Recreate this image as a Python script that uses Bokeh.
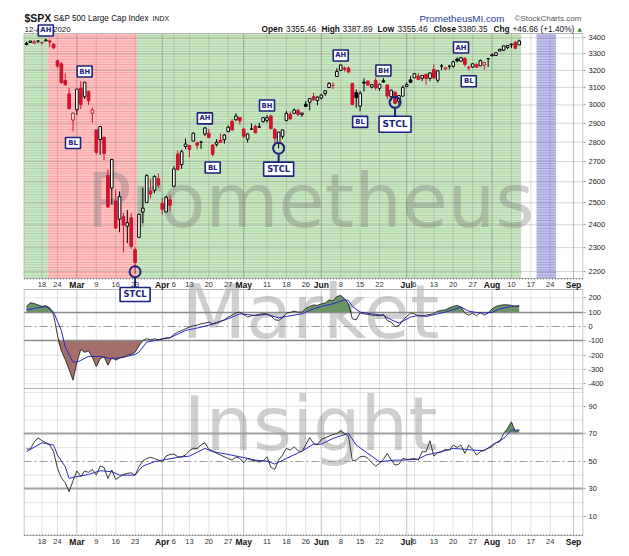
import math
import numpy as np
import pandas as pd
from bokeh.plotting import figure
from bokeh.models import Range1d, LogScale, LinearAxis, FixedTicker, ColumnDataSource
from bokeh.core.properties import value
from bokeh.embed import file_html
from bokeh.resources import INLINE

# ---------------- data ----------------
first_day = "2020-02-11"
axis_last_day = "2020-09-04"
market_holidays = ["2020-02-17", "2020-04-10", "2020-05-25", "2020-07-03"]
prev_close = 3352.09

opens = [3365.87, 3370.50, 3365.90, 3378.08,
         3369.04, 3380.39, 3380.45, 3360.50,
         3257.61, 3238.94, 3139.90, 3062.54, 2916.90,
         2974.28, 3096.46, 3045.75, 3075.70, 2954.20,
         2863.89, 2813.48, 2825.60, 2630.86, 2569.99,
         2508.59, 2425.66, 2436.50, 2393.48, 2431.94,
         2290.71, 2344.44, 2457.77, 2501.29, 2555.87,
         2558.98, 2614.69, 2498.08, 2458.54, 2514.92,
         2578.28, 2738.65, 2685.00, 2776.99,
         2782.46, 2805.10, 2795.64, 2799.34, 2842.43,
         2845.62, 2784.81, 2787.89, 2810.42, 2812.64,
         2854.65, 2909.96, 2918.46, 2930.91, 2869.09,
         2815.01, 2868.88, 2883.14, 2878.26, 2908.83,
         2915.46, 2939.50, 2865.86, 2794.54, 2829.95,
         2913.86, 2948.59, 2953.63, 2969.95, 2948.05,
         3004.08, 3015.65, 3046.61, 3025.17,
         3038.78, 3064.78, 3098.90, 3111.56, 3163.84,
         3199.92, 3213.32, 3213.42, 3123.53, 3071.04,
         2993.76, 3131.00, 3136.13, 3101.64, 3140.29,
         3094.42, 3138.70, 3114.40, 3046.60, 3073.20,
         3018.59, 3050.20, 3105.92, 3143.64,
         3155.29, 3166.44, 3153.07, 3176.17, 3152.47,
         3205.08, 3141.11, 3225.98, 3208.36, 3224.21,
         3224.29, 3268.52, 3254.86, 3271.64, 3218.58,
         3219.84, 3234.27, 3227.22, 3231.76, 3270.45,
         3288.26, 3289.92, 3317.37, 3323.17, 3340.05,
         3356.04, 3370.34, 3355.46]
highs = [3375.63, 3381.47, 3385.09, 3380.69,
         3375.01, 3393.52, 3389.15, 3360.76,
         3259.81, 3246.99, 3182.51, 3097.07, 2959.72,
         3090.96, 3136.72, 3130.97, 3083.04, 2985.93,
         2863.89, 2882.59, 2825.60, 2660.95, 2711.33,
         2562.98, 2553.93, 2453.57, 2466.97, 2453.01,
         2300.73, 2449.71, 2571.42, 2637.01, 2615.91,
         2631.80, 2641.39, 2522.75, 2533.22, 2538.18,
         2676.85, 2756.89, 2760.75, 2818.57,
         2782.46, 2851.85, 2801.88, 2806.51, 2879.22,
         2868.98, 2785.54, 2815.10, 2844.90, 2842.71,
         2887.72, 2921.15, 2954.86, 2930.91, 2869.09,
         2844.24, 2898.23, 2891.11, 2901.92, 2932.16,
         2944.25, 2945.82, 2874.14, 2852.80, 2865.01,
         2968.09, 2964.21, 2980.29, 2978.50, 2956.76,
         3021.72, 3036.25, 3068.67, 3049.17,
         3062.18, 3081.07, 3130.94, 3128.91, 3211.72,
         3233.13, 3222.71, 3223.27, 3123.53, 3088.42,
         3079.76, 3153.45, 3141.16, 3120.00, 3155.53,
         3120.92, 3154.90, 3115.01, 3086.25, 3073.73,
         3053.89, 3111.51, 3128.44, 3165.81,
         3182.59, 3184.15, 3171.80, 3179.78, 3186.82,
         3235.32, 3200.95, 3238.28, 3220.39, 3233.52,
         3258.61, 3277.29, 3279.32, 3279.99, 3227.26,
         3241.43, 3243.72, 3264.74, 3250.92, 3272.17,
         3302.73, 3306.84, 3330.77, 3351.03, 3352.54,
         3363.29, 3381.01, 3387.89]
lows = [3352.72, 3369.72, 3360.52, 3366.15,
        3355.61, 3378.83, 3341.02, 3328.45,
        3214.65, 3118.77, 3108.99, 2977.39, 2855.84,
        2945.19, 2976.63, 3034.38, 2999.83, 2901.54,
        2734.43, 2734.00, 2707.22, 2478.86, 2492.37,
        2380.94, 2367.04, 2280.52, 2319.78, 2295.56,
        2191.86, 2344.44, 2407.53, 2500.72, 2520.02,
        2545.28, 2571.15, 2447.49, 2455.79, 2459.96,
        2574.57, 2657.67, 2663.30, 2762.36,
        2721.17, 2805.10, 2761.54, 2764.32, 2830.88,
        2820.43, 2727.10, 2775.95, 2794.26, 2791.76,
        2852.89, 2860.71, 2912.16, 2892.47, 2821.61,
        2797.85, 2863.55, 2847.65, 2876.48, 2902.88,
        2903.44, 2869.59, 2793.15, 2766.64, 2816.78,
        2913.86, 2922.35, 2953.63, 2938.57, 2933.59,
        2988.17, 2969.75, 3023.40, 2998.61,
        3031.54, 3051.64, 3098.90, 3090.41, 3163.84,
        3196.00, 3193.11, 3181.49, 2999.49, 2984.47,
        2965.66, 3076.06, 3108.03, 3093.51, 3083.11,
        3079.39, 3127.12, 3032.13, 3024.01, 3004.63,
        2999.74, 3047.83, 3101.17, 3124.52,
        3155.29, 3142.93, 3136.53, 3115.70, 3136.22,
        3149.43, 3127.66, 3200.76, 3198.59, 3205.65,
        3215.16, 3247.77, 3253.10, 3222.66, 3200.05,
        3214.25, 3216.17, 3227.22, 3204.13, 3220.26,
        3284.53, 3286.37, 3317.37, 3318.14, 3328.72,
        3335.44, 3326.44, 3355.46]
closes = [3357.75, 3379.45, 3373.94, 3380.16,
          3370.29, 3386.15, 3373.23, 3337.75,
          3225.89, 3128.21, 3116.39, 2978.76, 2954.22,
          3090.23, 3003.37, 3130.12, 3023.94, 2972.37,
          2746.56, 2882.23, 2741.38, 2480.64, 2711.02,
          2386.13, 2529.19, 2398.10, 2409.39, 2304.92,
          2237.40, 2447.33, 2475.56, 2630.07, 2541.47,
          2626.65, 2584.59, 2470.50, 2526.90, 2488.65,
          2663.68, 2659.41, 2749.98, 2789.82,
          2761.63, 2846.06, 2783.36, 2799.55, 2874.56,
          2823.16, 2736.56, 2799.31, 2797.80, 2836.74,
          2878.48, 2863.39, 2939.51, 2912.43, 2830.71,
          2842.74, 2868.44, 2848.42, 2881.19, 2929.80,
          2930.32, 2870.12, 2820.00, 2852.50, 2863.70,
          2953.91, 2922.94, 2971.61, 2948.51, 2955.45,
          2991.77, 3036.13, 3029.73, 3044.31,
          3055.73, 3080.82, 3122.87, 3112.35, 3193.93,
          3232.39, 3207.18, 3190.14, 3002.10, 3041.31,
          3066.59, 3124.74, 3113.49, 3115.34, 3097.74,
          3117.86, 3131.29, 3050.33, 3083.76, 3009.05,
          3053.24, 3100.29, 3115.86, 3130.01,
          3179.72, 3145.32, 3169.94, 3152.05, 3185.04,
          3155.22, 3197.52, 3226.56, 3215.57, 3224.73,
          3251.84, 3257.30, 3276.02, 3235.66, 3215.63,
          3239.41, 3218.44, 3258.44, 3246.22, 3271.12,
          3294.61, 3306.51, 3327.77, 3349.16, 3351.28,
          3360.47, 3333.69, 3380.35]

# CCI (black) per trading day
cci = [140, 165, 160, 150, 140, 145, 130, 80, -60, -170,
       -230, -300, -375, -250, -160, -180, -170, -215, -280, -225,
       -210, -270, -215, -235, -220, -215, -200, -195, -180, -135,
       -98, -86, -93, -86, -93, -86, -79, -79, -56, -40,
       -28, -16, -5, 5, 9, 19, 23, 30, 19, 28,
       37, 47, 65, 79, 95, 100, 84, 65, 74, 79,
       84, 88, 88, 74, 47, 42, 60, 93, 98, 107,
       100, 100, 125, 140, 150, 147, 158, 163, 186, 177,
       209, 216, 193, 158, 53, 47, 95, 88, 84, 79,
       77, 74, 84, 42, 30, 0, 5, 42, 70, 93,
       88, 74, 74, 79, 84, 88, 107, 112, 116, 130,
       140, 147, 135, 93, 79, 93, 74, 98, 79, 93,
       123, 140, 147, 151, 151, 147, 140, 144]
# CCI signal line (blue), sampled at trading-day numbers
cci_ma_day = [0, 5, 7, 9, 10, 12, 13, 14, 16, 19,
              22, 25, 28, 29, 31, 34, 37, 41, 45, 49,
              53, 55, 59, 62, 65, 67, 71, 74, 76, 79,
              82, 83, 84, 86, 89, 92, 94, 96, 99, 101,
              103, 106, 108, 112, 114, 117, 120, 122, 125, 127]
cci_ma = [116, 140, 100, -28, -144, -249, -249, -237, -209, -209,
          -226, -214, -195, -179, -109, -93, -79, -28, -5, 23,
          65, 88, 77, 84, 60, 70, 88, 123, 140, 158,
          186, 181, 140, 100, 88, 77, 47, 23, 65, 77,
          70, 88, 100, 135, 107, 93, 98, 123, 140, 144]

# RSI (black) per trading day
rsi = [59, 59, 64, 67, 65, 63.5, 62, 57, 45, 38,
       34.5, 28, 36, 43, 39, 43, 42, 44, 40, 46.6,
       45.6, 37.6, 43.7, 36.9, 38.8, 40.5, 41.3, 41.7, 40, 46,
       50.4, 52.1, 52.9, 52.1, 50.9, 49.7, 53.8, 55, 55.3, 53.3,
       53.3, 54.6, 57.7, 59.4, 59.4, 61.8, 63.5, 58.7, 57.7, 55.8,
       54.6, 53.3, 52.1, 50.9, 53.3, 52.1, 49, 52.1, 50.9, 50.4,
       49.5, 50.4, 53.3, 45.6, 44.2, 50.9, 54.6, 59.4, 58.2, 60.6,
       57.7, 57, 62, 67.2, 63, 62, 65.9, 67.1, 68.3, 69.5,
       70, 72.5, 70, 68.3, 50.4, 50.9, 53.3, 53.8, 52.1, 49,
       46.6, 48.5, 51.4, 55.8, 50.9, 47.3, 48, 52.1, 51.4, 51.6,
       52.1, 50.9, 57, 57, 64.9, 53.8, 56.2, 57, 58.7, 58.2,
       61.8, 60.1, 61.8, 55.8, 61.8, 58.7, 54.6, 57, 58.2, 59.4,
       60.6, 63.5, 64.2, 70.3, 73.9, 78.7, 71.5, 72.7]
rsi_ma_day = [0, 4, 7, 8, 10, 11, 12, 16, 19, 22,
              24, 28, 30, 33, 35, 39, 42, 46, 48, 52,
              55, 59, 62, 64, 67, 71, 74, 76, 79, 83,
              85, 88, 91, 95, 97, 101, 103, 107, 110, 113,
              115, 118, 120, 123, 125, 127]
rsi_ma = [57, 63.5, 61.8, 54.6, 46.1, 37.6, 38.4, 40.5, 43.2, 42.5,
          40, 40, 46.6, 49.7, 50.9, 52.9, 53.8, 59.4, 57, 55,
          53.3, 50.9, 50.2, 48, 52.1, 57.4, 62.5, 62.5, 66.6, 70.3,
          61.8, 55.8, 49.7, 50.9, 50.9, 51.6, 54.6, 57, 59.4, 58.7,
          58.2, 57.7, 61.8, 66.6, 72.7, 72.7]

# date axis
tick_days = ["2020-02-18", "2020-02-24", "2020-03-02", "2020-03-09", "2020-03-16", "2020-03-23",
             "2020-04-01", "2020-04-06", "2020-04-13", "2020-04-20", "2020-04-27", "2020-05-01",
             "2020-05-11", "2020-05-18", "2020-05-26", "2020-06-01", "2020-06-08", "2020-06-15",
             "2020-06-22", "2020-07-01", "2020-07-06", "2020-07-13", "2020-07-20", "2020-07-27",
             "2020-08-03", "2020-08-10", "2020-08-17", "2020-08-24", "2020-09-01"]
tick_labels = ["18", "24", "Mar", "9", "16", "23", "Apr", "6", "13", "20", "27", "May",
               "11", "18", "26", "Jun", "8", "15", "22", "Jul", "6", "13", "20", "27",
               "Aug", "10", "17", "24", "Sep"]

# right-axis tick values
price_ticks = [2200, 2300, 2400, 2500, 2600, 2700, 2800, 2900, 3000, 3100, 3200, 3300, 3400]
cci_ticks = [200, 100, 0, -100, -200, -300, -400]
rsi_ticks = [90, 70, 50, 30, 10]

# background regimes
band_kind = ["green", "red", "green", "purple"]
band_first = ["2020-02-11", "2020-02-20", "2020-03-24", "2020-08-19"]
band_last = ["2020-02-19", "2020-03-23", "2020-08-12", "2020-08-25"]

# annotation boxes
ann_text = ["AH", "BL", "BH", "AH", "BL", "BH", "AH", "BL", "BH", "AH", "BL"]
ann_day = ["2020-02-19", "2020-02-28", "2020-03-04", "2020-04-17", "2020-04-21", "2020-05-11",
           "2020-06-08", "2020-06-15", "2020-06-23", "2020-07-22", "2020-07-24"]
ann_price = [3447, 2795, 3193, 2926, 2670, 2997, 3290, 2907, 3199, 3339, 3136]
stcl_text = ["STCL", "STCL", "STCL"]
stcl_day = ["2020-03-23", "2020-05-14", "2020-06-26"]
stcl_circle_price = [2199, 2768, 3015]
stcl_box_price = [2108, 2662, 2894]

watermark = ["Prometheus", "Market", "Insight"]

header_symbol = "$SPX"
header_name = "S&P 500 Large Cap Index"
header_exchange = "INDX"
header_brand = "PrometheusMI.com"
header_credit = "\u00a9StockCharts.com"
header_date = "12-Aug-2020"

# ---------------- layout (page pixels) ----------------
FIG_W, FIG_H = 620, 552
PAGE_OFF = 0
FRAME_L, FRAME_R = 23, 583
FRAME_T, FRAME_B = 8, 552
DAY_PX = 3.88
DAY0_PX = 24 + 0.5 * DAY_PX
PRICE_T, PRICE_B = 33, 278
CCI_T, CCI_B = 289, 388
RSI_T, RSI_B = 388, 535
ROW_MID, ROW_BOT = 284, 541

RED = "#d0142c"
NAVY = "#1a237e"
TXT = "Liberation Sans"
BOXF = "DejaVu Sans"


def px_to_day(x):
    return (x - DAY0_PX) / DAY_PX


X_START, X_END = px_to_day(FRAME_L), px_to_day(FRAME_R)

P_HI, P_HI_Y, P_LO, P_LO_Y = 3400.0, 37.3, 2200.0, 271.0
LN_PX = (math.log(P_HI) - math.log(P_LO)) / (P_LO_Y - P_HI_Y)


def price_y(v):
    return P_HI_Y + (math.log(P_HI) - math.log(v)) / LN_PX


def y_price(y):
    return math.exp(math.log(P_HI) - (y - P_HI_Y) * LN_PX)


CCI_PX = (383.3 - 297.3) / 600.0


def cci_y(v):
    return 297.3 + (200 - v) * CCI_PX


def y_cci(y):
    return 200 - (y - 297.3) / CCI_PX


RSI_PX = (516.0 - 405.7) / 80.0


def rsi_y(v):
    return 405.7 + (90 - v) * RSI_PX


def y_rsi(y):
    return 90 - (y - 405.7) / RSI_PX


days = pd.bdate_range(first_day, axis_last_day, freq="C", holidays=market_holidays)
day_pos = {d.strftime("%Y-%m-%d"): i for i, d in enumerate(days)}

n = len(closes)
xs = np.arange(n)

p = figure(width=FIG_W, height=FIG_H, output_backend="svg", toolbar_location=None,
           x_range=Range1d(X_START, X_END), y_range=Range1d(FRAME_B, FRAME_T),
           x_axis_type=None, y_axis_type=None, title=None,
           min_border_left=FRAME_L - PAGE_OFF, min_border_right=PAGE_OFF + FIG_W - FRAME_R,
           min_border_top=FRAME_T - PAGE_OFF, min_border_bottom=PAGE_OFF + FIG_H - FRAME_B)
p.outline_line_color = None
p.background_fill_color = "white"
p.border_fill_color = "white"
p.extra_y_ranges = {
    "price": Range1d(y_price(FRAME_B), y_price(FRAME_T)),
    "cci": Range1d(y_cci(FRAME_B), y_cci(FRAME_T)),
    "rsi": Range1d(y_rsi(FRAME_B), y_rsi(FRAME_T)),
}
p.extra_y_scales = {"price": LogScale()}

# right axis (all three panels)
ax_ticks, ax_over = [], {}
for v in price_ticks:
    t = round(price_y(v), 2); ax_ticks.append(t); ax_over[t] = str(v)
for v in cci_ticks:
    t = round(cci_y(v), 2); ax_ticks.append(t); ax_over[t] = str(v)
for v in rsi_ticks:
    t = round(rsi_y(v), 2); ax_ticks.append(t); ax_over[t] = str(v)
axis = LinearAxis(ticker=FixedTicker(ticks=ax_ticks), major_label_overrides=ax_over,
                  axis_line_color=None, major_tick_line_color="#999999", major_tick_out=2,
                  major_tick_in=0, minor_tick_line_color=None,
                  major_label_text_font=TXT, major_label_text_font_size="7.5px",
                  major_label_text_color="#222222", major_label_standoff=3)
p.add_layout(axis, "right")

# background regimes
band_style = {
    "green": ("#cce7c6", "#a8d39f"),
    "red": ("#ffc4c4", "#ff9c9c"),
    "purple": ("#c2c2ec", "#9c9cd8"),
}
for i, kind in enumerate(band_kind):
    left = X_START if i == 0 else day_pos[band_first[i]] - 0.5
    right = day_pos[band_last[i]] + 0.5
    fc, hc = band_style[kind]
    p.quad(left=[left], right=[right], top=[PRICE_T], bottom=[PRICE_B], fill_color=fc,
           line_color=None, hatch_pattern="horizontal_line", hatch_color=hc,
           hatch_scale=2.6, hatch_weight=1)

# vertical grid
tick_x = [day_pos[d] for d in tick_days]
is_month = [lab.isalpha() for lab in tick_labels]
wk_x = [x for x, m in zip(tick_x, is_month) if not m]
mo_x = [x for x, m in zip(tick_x, is_month) if m]
for top, bot, alpha_w, alpha_m in [(PRICE_T, PRICE_B, 0.22, 0.4), (CCI_T, CCI_B, 0.18, 0.35),
                                   (RSI_T, RSI_B, 0.18, 0.35)]:
    p.segment(x0=wk_x, x1=wk_x, y0=top, y1=bot, line_color="#666666", line_alpha=alpha_w, line_width=1)
    p.segment(x0=mo_x, x1=mo_x, y0=top, y1=bot, line_color="#555555", line_alpha=alpha_m, line_width=1)

# horizontal grids
p.segment(x0=X_START, x1=X_END, y0=price_ticks, y1=price_ticks, y_range_name="price",
          line_color="#777777", line_alpha=0.3)
cci_grid = [200, -200, -300, -400]
p.segment(x0=X_START, x1=X_END, y0=cci_grid, y1=cci_grid, y_range_name="cci",
          line_color="#777777", line_alpha=0.2)
rsi_grid = [10, 20, 40, 60, 80, 90, 100]
p.segment(x0=X_START, x1=X_END, y0=rsi_grid, y1=rsi_grid, y_range_name="rsi",
          line_color="#777777", line_alpha=0.2)

# watermark
p.text(x=[px_to_day(310)] * 3, y=[200, 311.5, 423], text=watermark, text_align="center",
       text_baseline="alphabetic", text_font=value(BOXF), text_font_size="75px",
       text_color="#7a7a7a", text_alpha=0.36)

# CCI panel
cci_a = np.array(cci, dtype=float)
p.varea(x=xs, y1=100, y2=np.maximum(cci_a, 100), fill_color="#6a9464", y_range_name="cci")
p.varea(x=xs, y1=np.minimum(cci_a, -100), y2=-100, fill_color="#a56f69", y_range_name="cci")
p.hspan(y=[100, -100], y_range_name="cci", line_color="#8a8a8a", line_width=1.3)
p.hspan(y=[0], y_range_name="cci", line_color="#9a9a9a", line_width=1, line_dash="8 3 2 3")
p.line(cci_ma_day, cci_ma, y_range_name="cci", line_color="#2a2acc", line_width=1)
p.line(xs, cci_a, y_range_name="cci", line_color="#262626", line_width=0.9)

# RSI panel
rsi_a = np.array(rsi, dtype=float)
p.varea(x=xs, y1=70, y2=np.maximum(rsi_a, 70), fill_color="#6a9464", y_range_name="rsi")
p.hspan(y=[70, 30], y_range_name="rsi", line_color="#a0a0a0", line_width=2)
p.hspan(y=[50], y_range_name="rsi", line_color="#9a9a9a", line_width=1, line_dash="8 3 2 3")
p.line(rsi_ma_day, rsi_ma, y_range_name="rsi", line_color="#2a2acc", line_width=1)
p.line(xs, rsi_a, y_range_name="rsi", line_color="#262626", line_width=0.9)

# candles
o = np.array(opens); h = np.array(highs); l = np.array(lows); c = np.array(closes)
prev = np.concatenate([[prev_close], c[:-1]])
col = np.where(c >= prev, "#000000", RED)
fill = np.where(c > o, "#ffffff", col)
src = ColumnDataSource(dict(x=xs, o=o, h=h, l=l, c=c, top=np.maximum(o, c),
                            bot=np.minimum(o, c), col=col, fill=fill))
p.segment(x0="x", x1="x", y0="h", y1="l", line_color="col", line_width=1, source=src,
          y_range_name="price")
p.vbar(x="x", width=0.68, top="top", bottom="bot", fill_color="fill", line_color="col",
       line_width=1, source=src, y_range_name="price")

# panel borders
bx0, bx1 = X_START + 0.5 / DAY_PX, X_END - 0.5 / DAY_PX
p.quad(left=[bx0] * 3, right=[bx1] * 3, top=[PRICE_T, CCI_T, RSI_T], bottom=[PRICE_B, CCI_B, RSI_B],
       fill_color=None, line_color="#b5b5b5", line_width=1)
p.segment(x0=bx0, x1=bx1, y0=[PRICE_B + 0.5, RSI_B - 0.5], y1=[PRICE_B + 0.5, RSI_B - 0.5],
          line_color="#777777", line_dash="1 2")

# date labels
num_x = [x for x, m in zip(tick_x, is_month) if not m]
num_t = [t for t, m in zip(tick_labels, is_month) if not m]
mon_x = [x for x, m in zip(tick_x, is_month) if m]
mon_t = [t for t, m in zip(tick_labels, is_month) if m]
for row in (ROW_MID, ROW_BOT):
    p.text(x=num_x, y=[row] * len(num_x), text=num_t, text_align="center", text_baseline="middle",
           text_font=value(TXT), text_font_size="7.5px", text_color="#333333")
    p.text(x=mon_x, y=[row] * len(mon_x), text=mon_t, text_align="center", text_baseline="middle",
           text_font=value(TXT), text_font_size="8.5px", text_font_style="bold", text_color="#111111")

# header
def htext(x, y, s, size, bold=False, color="#111111", font=TXT):
    p.text(x=[px_to_day(x)], y=[y], text=[s], text_align="left", text_baseline="middle",
           text_font=value(font), text_font_size=size,
           text_font_style="bold" if bold else "normal", text_color=color)


htext(24, 17, header_symbol, "10.5px", bold=True)
htext(53, 17.5, header_name, "8.2px")
htext(152, 17.5, header_exchange, "7px")
htext(419, 17.5, header_brand, "9.8px", color="#1f3c96")
htext(514, 17.5, header_credit, "8px", color="#555555")
htext(24, 28.5, header_date, "8px")
chg = closes[-1] - closes[-2]
pct = chg / closes[-2] * 100
row2 = [(261, "Open", True), (285.6, f"{opens[-1]:.2f}", False),
        (321, "High", True), (342, f"{highs[-1]:.2f}", False),
        (377, "Low", True), (397, f"{lows[-1]:.2f}", False),
        (433, "Close", True), (457, f"{closes[-1]:.2f}", False),
        (493, "Chg", True), (512, f"{chg:+.2f} ({pct:+.2f}%)", False)]
for x, s, b in row2:
    htext(x, 28.5, s, "8.3px", bold=b)
htext(577, 28, "\u25b2", "5.5px", color="#2e8b2e", font=BOXF)

# STCL markers
sx = [day_pos[d] for d in stcl_day]
stem_top = [v * math.exp(-6 * LN_PX) for v in stcl_circle_price]
stem_bot = [v * math.exp(7 * LN_PX) for v in stcl_box_price]
p.segment(x0=sx, x1=sx, y0=stem_top, y1=stem_bot, line_color=NAVY, line_width=2, y_range_name="price")
p.scatter(x=sx, y=stcl_circle_price, marker="circle", size=11, fill_color=None, line_color=NAVY,
          line_width=2, y_range_name="price")
p.rect(x=sx, y=stcl_box_price, width=[30, 30, 32], height=[14, 14, 16], width_units="screen",
       height_units="screen", fill_color="white", line_color=NAVY, line_width=1.6, y_range_name="price")
p.text(x=sx, y=stcl_box_price, text=stcl_text, text_align="center", text_baseline="middle",
       text_font=value(BOXF), text_font_size=["8.3px", "8.3px", "9px"], text_font_style="bold",
       text_color=NAVY, y_range_name="price")

# AH / BH / BL boxes
ax_ = [day_pos[d] for d in ann_day]
p.rect(x=ax_, y=ann_price, width=15, height=11, width_units="screen", height_units="screen",
       fill_color="white", line_color=NAVY, line_width=1.6, y_range_name="price")
p.text(x=ax_, y=ann_price, text=ann_text, text_align="center", text_baseline="middle",
       text_font=value(BOXF), text_font_size="6.8px", text_font_style="bold",
       text_color=NAVY, y_range_name="price")

open("out.html", "w").write(file_html(p, INLINE))
